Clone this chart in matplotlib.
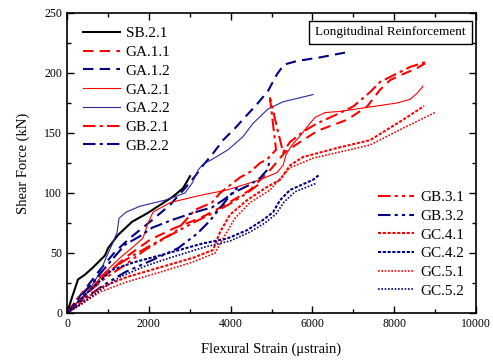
import matplotlib
matplotlib.use('Agg')
import matplotlib.pyplot as plt
from matplotlib.ticker import MultipleLocator

plt.rcParams['font.family'] = ['Liberation Serif', 'DejaVu Serif']
plt.rcParams['mathtext.fontset'] = 'stix'

RED = '#ff0000'
NAVY = '#000080'

# strain (microstrain) / shear force (kN)
sb21_x = [0, 122, 269, 440, 636, 929, 1002, 1247, 1589, 1956, 2274, 2592, 2836, 3007]
sb21_y = [0, 13, 28, 32, 38, 48, 54, 65, 76, 83, 90, 97, 104, 114]

ga11_x = [0, 318, 807, 1418, 2029, 2641, 3252, 3864, 4475, 4963, 5330, 5697, 6137, 6846, 7335, 7653, 7897, 8142, 8557, 8753]
ga11_y = [0, 11, 27.5, 46, 61, 71, 79, 90, 102.5, 119, 134, 142.5, 152, 161, 172, 186, 194, 198, 204, 208]

ga12_x = [0, 196, 513, 807, 1174, 1540, 2029, 2518, 2885, 3130, 3325, 3570, 3814, 4108, 4401, 4670, 4914, 5134, 5306, 5623, 6186, 6797]
ga12_y = [0, 9, 23, 36, 51, 62.5, 76, 90, 104, 114, 123, 133, 144, 154, 165, 175, 185, 199, 207, 210, 213, 217]

ga21_x = [0, 196, 562, 929, 1296, 1614, 1858, 1980, 2103, 2518, 3252, 3912, 4719, 5134, 5281, 5355, 5501, 5697, 5868, 6064, 6308, 6675, 8068, 8386, 8557, 8704]
ga21_y = [0, 7, 19, 34, 46, 55, 62.5, 75, 84, 92, 98, 102.5, 111, 117, 123, 132, 140, 147.5, 155, 163, 167, 168, 175, 178, 183, 189]

ga22_x = [0, 122, 269, 440, 611, 807, 954, 1100, 1222, 1271, 1443, 1785, 2396, 2885, 3056, 3203, 3325, 3545, 3936, 4303, 4548, 4914, 5281, 6015]
ga22_y = [0, 2.5, 6, 14, 23, 34, 46, 57, 67, 79, 84, 89, 94, 100, 108, 119, 124, 128, 136, 147, 158, 170, 176, 182]

gb21_x = [0, 318, 807, 1418, 2029, 2641, 3130, 3545, 3741, 4230, 4475, 4719, 4890, 5110, 4963, 5281, 5452, 5770, 6113, 6724, 6993, 7408, 7653, 8386, 8753]
gb21_y = [0, 15, 30, 44, 56, 67.5, 86, 92, 100, 113, 117.5, 125, 128, 136, 179, 134, 142.5, 151, 158, 167.5, 172, 184, 192.5, 205, 209]

gb22_x = [0, 318, 685, 1051, 1418, 1785, 2078, 2567, 3130, 3545, 3814, 4059, 4475, 4719, 4890, 4963]
gb22_y = [0, 13, 27.5, 42.5, 57, 64, 71, 77.5, 84, 88, 94, 100, 107, 112.5, 119, 127.5]

gb31_x = [0, 440, 929, 1418, 1907, 2396, 3130, 3619, 4034, 4401, 4719]
gb31_y = [0, 15, 29, 40, 52.5, 62.5, 76, 84, 92, 100, 108]

gb32_x = [0, 440, 929, 1418, 2078, 2714, 3179, 3497, 3741, 3986, 4181]
gb32_y = [0, 12.5, 24, 34, 44, 54, 66, 77, 87.5, 98, 105]

gc41_x = [0, 318, 807, 1467, 2274, 3081, 3570, 3741, 3986, 4401, 4890, 5208, 5452, 5770, 6602, 7408, 8215, 8729]
gc41_y = [0, 8, 21, 30, 38, 46, 52.5, 67.5, 82, 94, 105, 111, 123, 130, 137.5, 144, 161, 172.5]

gc42_x = [0, 318, 685, 1100, 1663, 2274, 3325, 3912, 4401, 4792, 5037, 5208, 5452, 6015, 6161]
gc42_y = [0, 11, 23, 36, 42.5, 48, 58, 62, 69, 77.5, 84, 94, 102.5, 111, 115]

gc51_x = [0, 318, 807, 1467, 2274, 3081, 3619, 3864, 4108, 4475, 4963, 5452, 6015, 7408, 8215, 9022]
gc51_y = [0, 6.5, 17.5, 26, 34, 42.5, 50, 65, 79, 92, 102.5, 121, 129, 140, 154, 167.5]

gc52_x = [0, 367, 807, 1296, 1907, 2518, 3374, 3986, 4475, 4841, 5110, 5306, 5575, 6088]
gc52_y = [0, 8, 19, 30, 39, 46, 55, 60, 67.5, 75, 82.5, 92.5, 101, 108]

DASH = (0, (5, 3))
DASHDOT = (0, (6, 2, 1.5, 2))
DASHDOTDOT = (0, (6, 2, 1.5, 2, 1.5, 2))
SHORTDASH = (0, (1.5, 0.8))
DOT = (0, (1, 1))

fig, ax = plt.subplots(figsize=(4.93, 3.6), dpi=100)
fig.subplots_adjust(left=0.136, right=0.9655, bottom=0.1306, top=0.9639)

h1 = []
h1 += ax.plot(sb21_x, sb21_y, color='black', lw=1.5, label='SB.2.1')
h1 += ax.plot(ga11_x, ga11_y, color=RED, lw=1.5, ls=DASH, label='GA.1.1')
h1 += ax.plot(ga12_x, ga12_y, color=NAVY, lw=1.5, ls=DASH, label='GA.1.2')
h1 += ax.plot(ga21_x, ga21_y, color=RED, lw=0.8, label='GA.2.1')
h1 += ax.plot(ga22_x, ga22_y, color='#2a2aa0', lw=0.8, label='GA.2.2')
h1 += ax.plot(gb21_x, gb21_y, color=RED, lw=1.5, ls=DASHDOT, label='GB.2.1')
h1 += ax.plot(gb22_x, gb22_y, color=NAVY, lw=1.5, ls=DASHDOT, label='GB.2.2')

h2 = []
h2 += ax.plot(gb31_x, gb31_y, color=RED, lw=1.5, ls=DASHDOTDOT, label='GB.3.1')
h2 += ax.plot(gb32_x, gb32_y, color=NAVY, lw=1.5, ls=DASHDOTDOT, label='GB.3.2')
h2 += ax.plot(gc41_x, gc41_y, color=RED, lw=1.5, ls=SHORTDASH, label='GC.4.1')
h2 += ax.plot(gc42_x, gc42_y, color=NAVY, lw=1.5, ls=SHORTDASH, label='GC.4.2')
h2 += ax.plot(gc51_x, gc51_y, color=RED, lw=1.2, ls=DOT, label='GC.5.1')
h2 += ax.plot(gc52_x, gc52_y, color=NAVY, lw=1.2, ls=DOT, label='GC.5.2')

ax.set_xlim(0, 10000)
ax.set_ylim(0, 250)
ax.xaxis.set_major_locator(MultipleLocator(2000))
ax.xaxis.set_minor_locator(MultipleLocator(1000))
ax.yaxis.set_major_locator(MultipleLocator(50))
ax.yaxis.set_minor_locator(MultipleLocator(25))
ax.tick_params(which='both', direction='in', top=True, right=True, labelsize=8.5, width=1)
ax.tick_params(which='major', length=5)
ax.tick_params(which='minor', length=3)
for s in ax.spines.values():
    s.set_linewidth(1.2)

ax.set_xlabel('Flexural Strain (\u03bcstrain)', fontsize=10.5, labelpad=9)
ax.set_ylabel('Shear Force (kN)', fontsize=10.5, labelpad=10)

leg1 = ax.legend(handles=h1, loc='upper left', bbox_to_anchor=(0.02, 0.98), frameon=False,
                 fontsize=11, handlelength=2.4, handletextpad=0.4, labelspacing=0.33, borderpad=0)
ax.add_artist(leg1)
ax.legend(handles=h2, loc='lower right', bbox_to_anchor=(0.99, 0.025), frameon=False,
          fontsize=11, handlelength=2.4, handletextpad=0.4, labelspacing=0.33, borderpad=0)

ax.text(0.975, 0.935, 'Longitudinal Reinforcement', transform=ax.transAxes, ha='right', va='center',
        fontsize=9.5, bbox=dict(boxstyle='square,pad=0.45', fc='white', ec='black', lw=1))

fig.savefig('out.png', dpi=100)
